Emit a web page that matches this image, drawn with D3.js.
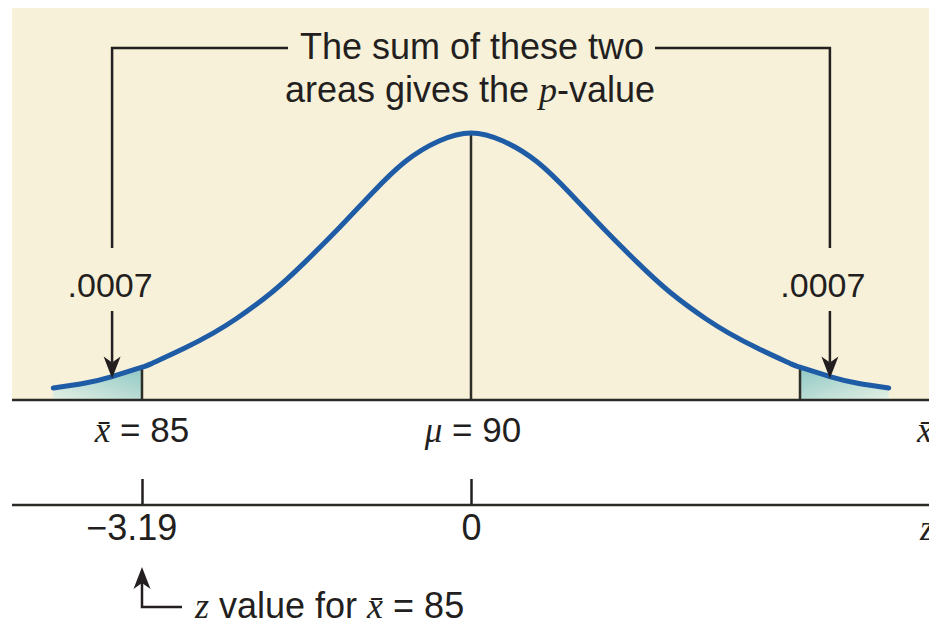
<!DOCTYPE html>
<html>
<head>
<meta charset="utf-8">
<script src="https://cdn.jsdelivr.net/npm/d3@7"></script>
<style>
  body { margin: 0; background: #ffffff; }
  svg text { font-family: "Liberation Sans", Arial, Helvetica, sans-serif; fill: #231f20; }
  .it { font-family: "Liberation Serif", "Times New Roman", serif; font-style: italic; }
</style>
</head>
<body>
<svg id="chart" width="929" height="624"></svg>
<script>
// Sampling distribution of the mean, in standard-score (z) units
const zValues = [-4.05, -3.75, -3.48, -3.19, -3.09, -2.77, -2.50, -2.28, -1.93, -1.61, -1.28, -0.96, -0.64, -0.31, 0,
                 0.31, 0.64, 0.96, 1.28, 1.61, 1.93, 2.28, 2.50, 2.77, 3.09, 3.19, 3.48, 3.75, 4.05];
const density = [0.018, 0.025, 0.035, 0.049, 0.055, 0.078, 0.100, 0.121, 0.161, 0.206, 0.257, 0.309, 0.356, 0.387, 0.399,
                 0.387, 0.356, 0.309, 0.257, 0.206, 0.161, 0.121, 0.100, 0.078, 0.055, 0.049, 0.035, 0.025, 0.018];

// Critical points and the two tail areas
const criticalZ = [-3.19, 3.19];
const pointerZ = [-3.48, 3.48];
const tailAreas = [0.0007, 0.0007];

// Axis ticks: sample-mean scale (upper) and z scale (lower)
const upperTicks = [-3.19, 0];
const upperSymbols = ["x\u0304", "\u03BC"];
const upperValues = [85, 90];
const lowerTicks = [-3.19, 0];
const lowerLabels = ["\u22123.19", "0"];

const svg = d3.select("#chart");
const W = 929, H = 624;

const x = d3.scaleLinear().domain([-3.19, 3.19]).range([142, 800]);
const y = d3.scaleLinear().domain([0, 0.399]).range([400, 133]);

const points = zValues.map((z, i) => ({ z, d: density[i] }));
const baseY = y(0);
const lowerAxisY = 505;
const ink = "#231f20";

// Panel background
svg.append("rect")
  .attr("x", 12).attr("y", 8)
  .attr("width", W - 12).attr("height", baseY - 8)
  .attr("fill", "#f7f1d9");

// Tail shading gradients
const defs = svg.append("defs");
[["tailL", 1, 0, 0, 1], ["tailR", 0, 0, 1, 1]].forEach(([id, x1, y1, x2, y2]) => {
  const g = defs.append("linearGradient").attr("id", id)
    .attr("x1", x1).attr("y1", y1).attr("x2", x2).attr("y2", y2);
  g.append("stop").attr("offset", 0).attr("stop-color", "#8fc8c4");
  g.append("stop").attr("offset", 1).attr("stop-color", "#e4f0e4");
});

const area = d3.area()
  .x(p => x(p.z)).y0(baseY).y1(p => y(p.d))
  .curve(d3.curveNatural);

svg.append("path")
  .datum(points.filter(p => p.z <= criticalZ[0]))
  .attr("d", area).attr("fill", "url(#tailL)");
svg.append("path")
  .datum(points.filter(p => p.z >= criticalZ[1]))
  .attr("d", area).attr("fill", "url(#tailR)");

// Critical value lines and the mean line
criticalZ.forEach(z => {
  const p = points.find(q => q.z === z);
  svg.append("line")
    .attr("x1", x(z)).attr("x2", x(z))
    .attr("y1", baseY).attr("y2", y(p.d))
    .attr("stroke", "#2e2e28").attr("stroke-width", 2.5);
});
const peak = points.find(q => q.z === 0);
svg.append("line")
  .attr("x1", x(0)).attr("x2", x(0))
  .attr("y1", baseY).attr("y2", y(peak.d))
  .attr("stroke", "#2e2e28").attr("stroke-width", 2.5);

// Normal curve
const line = d3.line().x(p => x(p.z)).y(p => y(p.d)).curve(d3.curveNatural);
svg.append("path")
  .datum(points)
  .attr("d", line)
  .attr("fill", "none")
  .attr("stroke", "#1f5ca6")
  .attr("stroke-width", 5)
  .attr("stroke-linecap", "round");

// Baseline of the x-bar scale
svg.append("line")
  .attr("x1", 12).attr("x2", W).attr("y1", baseY).attr("y2", baseY)
  .attr("stroke", "#2a2a26").attr("stroke-width", 2.5);

// Upper labels: x-bar = 85 and mu = 90
upperTicks.forEach((z, i) => {
  const t = svg.append("text")
    .attr("x", x(z) + (i === 1 ? 2 : 0)).attr("y", 442)
    .attr("text-anchor", "middle")
    .style("font-size", "35px");
  t.append("tspan").attr("class", "it").text(upperSymbols[i]);
  t.append("tspan").text(" = " + upperValues[i]);
});
svg.append("text").attr("class", "it")
  .attr("x", 917).attr("y", 442).style("font-size", "35px").text("x\u0304");

// Lower z axis
const zAxis = d3.axisBottom(x)
  .tickValues(lowerTicks)
  .tickSizeInner(-26).tickSizeOuter(0).tickPadding(9)
  .tickFormat((d, i) => lowerLabels[i]);
const gz = svg.append("g").attr("transform", `translate(0,${lowerAxisY})`).call(zAxis);
gz.select(".domain").remove();
gz.selectAll(".tick line").attr("stroke", ink).attr("stroke-width", 2.5);
gz.selectAll(".tick text")
  .attr("fill", ink)
  .attr("dx", (d, i) => (lowerLabels[i].startsWith("\u2212") ? "-0.3em" : 0))
  .style("font-size", "36px")
  .style("font-family", '"Liberation Sans", Arial, sans-serif');
svg.append("line")
  .attr("x1", 12).attr("x2", W).attr("y1", lowerAxisY).attr("y2", lowerAxisY)
  .attr("stroke", "#2a2a26").attr("stroke-width", 2.5);
svg.append("text").attr("class", "it")
  .attr("x", 920).attr("y", 540).style("font-size", "35px").text("z");

// Arrowhead helper: tip at (tx, ty), pointing in direction dir (1 = down, -1 = up)
function arrowHead(tx, ty, dir) {
  const len = 22, half = 8.5, notch = 16;
  return `M${tx},${ty} L${tx - half},${ty - dir * len} L${tx},${ty - dir * notch} L${tx + half},${ty - dir * len} Z`;
}

// Bracket joining the two tail annotations with the title
const bracketTop = 48, bracketBottom = 248;
const [xl, xr] = pointerZ.map(x);
svg.append("path")
  .attr("d", `M${xl},${bracketBottom} V${bracketTop} H288`)
  .attr("fill", "none").attr("stroke", ink).attr("stroke-width", 2.5);
svg.append("path")
  .attr("d", `M655,${bracketTop} H${xr} V${bracketBottom}`)
  .attr("fill", "none").attr("stroke", ink).attr("stroke-width", 2.5);

const title = svg.append("text").attr("text-anchor", "middle").style("font-size", "36px");
title.append("tspan").attr("x", 472).attr("y", 59).text("The sum of these two");
const l2 = title.append("tspan").attr("x", 470).attr("y", 102);
l2.append("tspan").text("areas gives the ");
l2.append("tspan").attr("class", "it").text("p");
l2.append("tspan").text("-value");

// Tail area labels with arrows down to the curve
const fmtArea = v => d3.format(".4f")(v).replace(/^0/, "");
pointerZ.forEach((z, i) => {
  const p = points.find(q => q.z === z);
  const ax = x(z);
  const tipY = y(p.d) + 2;
  svg.append("text")
    .attr("x", ax + (i === 0 ? -2 : -7)).attr("y", 297)
    .attr("text-anchor", "middle")
    .style("font-size", "34px")
    .text(fmtArea(tailAreas[i]));
  svg.append("line")
    .attr("x1", ax).attr("x2", ax).attr("y1", 311).attr("y2", tipY - 16)
    .attr("stroke", ink).attr("stroke-width", 2.5);
  svg.append("path").attr("d", arrowHead(ax, tipY, 1)).attr("fill", ink);
});

// Note pointing at the z value of the sample mean
const nx = x(criticalZ[0]);
svg.append("path")
  .attr("d", `M${nx},${567 + 16} V607 H182`)
  .attr("fill", "none").attr("stroke", ink).attr("stroke-width", 2.5);
svg.append("path").attr("d", arrowHead(nx, 567, -1)).attr("fill", ink);
const note = svg.append("text").attr("x", 195).attr("y", 618).style("font-size", "36px");
note.append("tspan").attr("class", "it").text("z");
note.append("tspan").text(" value for ");
note.append("tspan").attr("class", "it").text("x\u0304");
note.append("tspan").text(" = 85");
</script>
</body>
</html>
